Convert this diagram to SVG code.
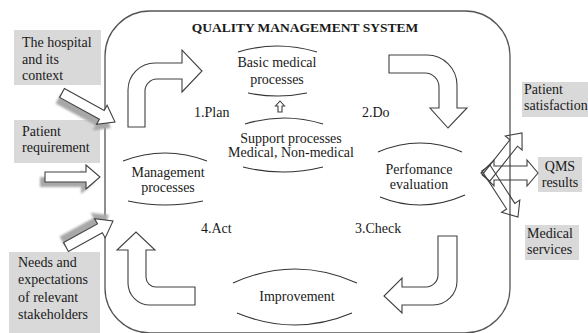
<svg xmlns="http://www.w3.org/2000/svg" width="588" height="333" viewBox="0 0 588 333" font-family="'Liberation Serif', 'Times New Roman', serif">
  <style>
    text { font-family: "Liberation Serif", "Times New Roman", serif; font-size: 14px; fill: #1a1a1a; }
    .title { font-size: 13.5px; font-weight: bold; }
    .mid { text-anchor: middle; }
    .box { fill: #d9d9d9; stroke: none; }
    .frame { fill: none; stroke: #555; stroke-width: 1.3; }
    .arrow { fill: #fff; stroke: #404040; stroke-width: 1.1; stroke-linejoin: miter; }
    .open { fill: none; stroke: #404040; stroke-width: 1.1; stroke-linejoin: miter; }
    .shadow { fill: #a8a8a8; filter: url(#soft); }
    .arc { fill: none; stroke: #333; stroke-width: 1.1; }
  </style>
  <defs>
    <filter id="soft" x="-20%" y="-20%" width="140%" height="140%">
      <feGaussianBlur stdDeviation="1.2"/>
    </filter>
  </defs>
  <rect width="588" height="333" fill="#fff"/>

  <!-- outer system frame -->
  <g id="system">
    <rect class="frame" x="105" y="11" width="405" height="322" rx="45"/>
    <text class="title mid" x="305" y="32">QUALITY MANAGEMENT SYSTEM</text>
  </g>

  <!-- inputs -->
  <g id="input-context">
    <rect class="box" x="14" y="30" width="87" height="55"/>
    <text x="22" y="47">The hospital</text>
    <text x="22" y="64">and its</text>
    <text x="22" y="80">context</text>
  </g>
  <g id="input-requirement">
    <rect class="box" x="14" y="120" width="86" height="43"/>
    <text x="22" y="136">Patient</text>
    <text x="22" y="152">requirement</text>
  </g>
  <g id="input-stakeholders">
    <rect class="box" x="9" y="252" width="91" height="81"/>
    <text x="18" y="267">Needs and</text>
    <text x="18" y="284">expectations</text>
    <text x="18" y="302">of relevant</text>
    <text x="18" y="319">stakeholders</text>
  </g>

  <!-- outputs -->
  <g id="output-satisfaction">
    <rect class="box" x="522" y="82" width="66" height="35"/>
    <text x="524" y="94">Patient</text>
    <text x="524" y="110">satisfaction</text>
  </g>
  <g id="output-results">
    <rect class="box" x="538" y="157" width="44" height="35"/>
    <text class="mid" x="560" y="171">QMS</text>
    <text class="mid" x="560" y="187">results</text>
  </g>
  <g id="output-services">
    <rect class="box" x="525" y="225" width="54" height="35"/>
    <text x="527" y="238">Medical</text>
    <text x="527" y="254">services</text>
  </g>

  <!-- processes -->
  <g id="basic-medical">
    <path class="arc" d="M238,52 Q277,40 317,52"/>
    <path class="arc" d="M248,93 Q278,99 307,93"/>
    <text class="mid" x="277" y="67">Basic medical</text>
    <text class="mid" x="277" y="84">processes</text>
  </g>
  <g id="support">
    <path class="arc" d="M245,124 Q284,112 323,124"/>
    <path class="arc" d="M243,167 Q283,177 323,167"/>
    <text class="mid" x="291" y="143">Support  processes</text>
    <text class="mid" x="291" y="157">Medical, Non-medical</text>
  </g>
  <g id="management">
    <path class="arc" d="M123,161 Q165,145 207,161"/>
    <path class="arc" d="M128,201 Q165,209 203,201"/>
    <text class="mid" x="168" y="177">Management</text>
    <text class="mid" x="168" y="192">processes</text>
  </g>
  <g id="performance">
    <path class="arc" d="M378,152 Q420,134 462,152"/>
    <path class="arc" d="M380,197 Q422,214 465,195"/>
    <text class="mid" x="419" y="174">Perfomance</text>
    <text class="mid" x="419" y="189">evaluation</text>
  </g>
  <g id="improvement">
    <path class="arc" d="M233,283 Q295,255 357,283"/>
    <path class="arc" d="M237,313 Q295,337 352,313"/>
    <text class="mid" x="297" y="301">Improvement</text>
  </g>

  <!-- cycle stage labels -->
  <g id="stages">
    <text x="194" y="117">1.Plan</text>
    <text x="362" y="117">2.Do</text>
    <text x="355" y="233">3.Check</text>
    <text x="201" y="233">4.Act</text>
  </g>

  <!-- connectors -->
  <g id="connectors">
    <!-- cycle arrows -->
    <path class="arrow" d="M128,127 V90 A27,27 0 0 1 155,63 H182 V50 L202,71 L182,92 V79 H157 A12,12 0 0 0 145,91 V127 Z"/>
    <path class="arrow" d="M389,55 H427 A30,30 0 0 1 457,85 V108 H467 L448,128 L430,108 H439 V87 A14,14 0 0 0 425,73 H389 Z"/>
    <path class="arrow" d="M438,236 H457 V281 A24,24 0 0 1 433,305 H402 V313 L384,296 L402,278 V287 H426 A12,12 0 0 0 438,275 Z"/>
    <path class="arrow" d="M195,287 V305 H150 A22,22 0 0 1 128,283 V250 H117 L136,232 L155,250 H146 V277 A10,10 0 0 0 156,287 Z"/>

    <!-- support feeds basic medical -->
    <polygon class="arrow" points="280,101 284.5,106 282,106 282,112 278,112 278,106 275.5,106"/>

    <!-- input arrows with drop shadows -->
    <g transform="translate(-4,6)">
      <polygon class="shadow" points="64.4,88.6 104.2,110.4 107.1,105.2 115,122 96.5,124.4 99.4,119.2 59.6,97.4"/>
    </g>
    <polygon class="arrow" points="64.4,88.6 104.2,110.4 107.1,105.2 115,122 96.5,124.4 99.4,119.2 59.6,97.4"/>

    <g transform="translate(-5,5)">
      <polygon class="shadow" points="45,172 86,172 86,165 100,177 86,189 86,182 45,182"/>
    </g>
    <polygon class="arrow" points="45,172 86,172 86,165 100,177 86,189 86,182 45,182"/>

    <g transform="translate(-4,-6)">
      <polygon class="shadow" points="63.6,242.6 97.5,223.9 94.6,218.7 113,221 105.2,237.9 102.3,232.7 68.4,251.4"/>
    </g>
    <polygon class="arrow" points="63.6,242.6 97.5,223.9 94.6,218.7 113,221 105.2,237.9 102.3,232.7 68.4,251.4"/>

    <!-- output arrows fanning out of performance evaluation -->
    <polygon class="open" points="482.2,174.8 509.9,139.8 505.3,136 522,133 522.1,150 517.5,146.2 489.8,181.2"/>
    <polygon class="open" points="490.1,165.2 514.8,203.4 519.8,200 518,217 501.6,212.3 506.6,209 481.9,170.8"/>
    <polygon class="open" points="481,173 494,160 494,166 527,166 527,160 538,173 527,186 527,180 494,180 494,186"/>
  </g>
</svg>
